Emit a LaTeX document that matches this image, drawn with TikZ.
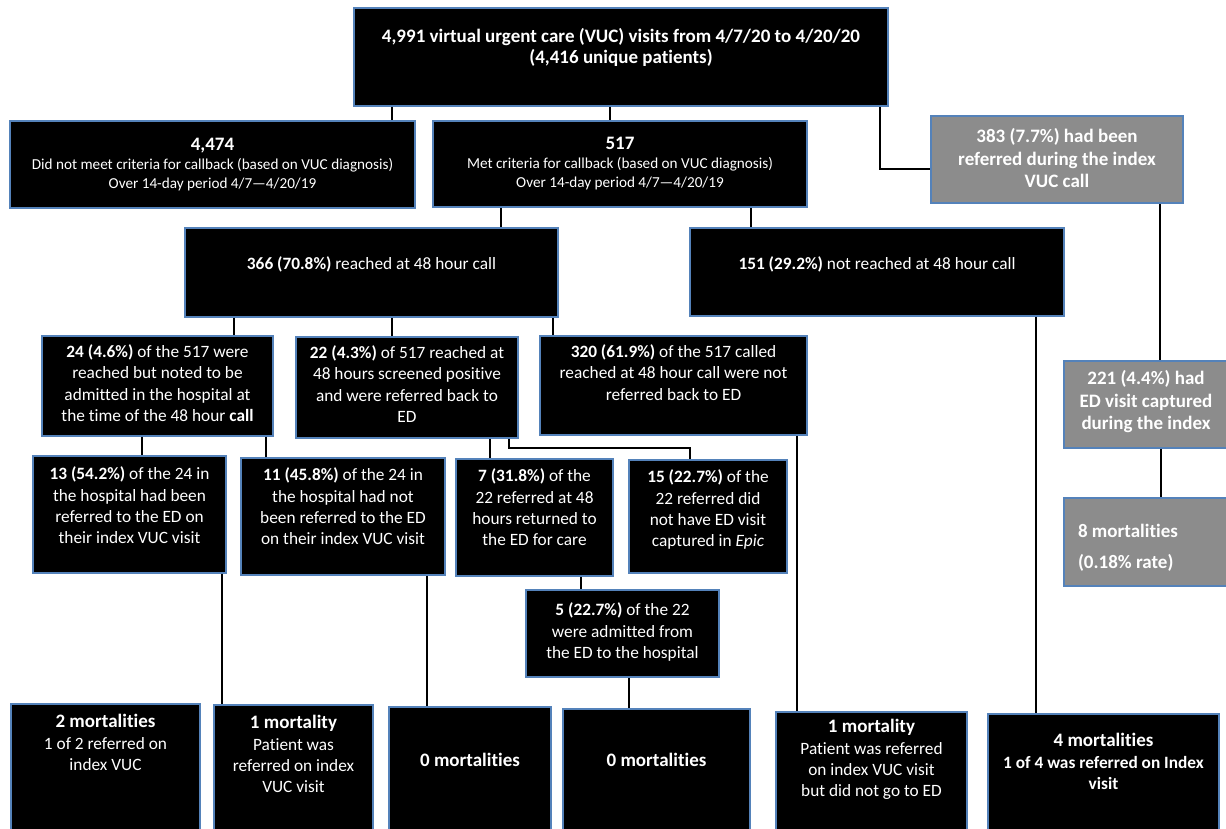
\documentclass[tikz,border=0pt]{standalone}
\usepackage{fontspec}
\setmainfont{Carlito}[Ligatures={TeX,NoCommon}]
\definecolor{edgeblue}{RGB}{84,130,186}
\definecolor{refgrey}{RGB}{140,140,140}
\newcommand{\cbox}[3]{\parbox[c][#2][c]{#1}{\centering #3\par}}
\newcommand{\tbox}[4]{\parbox[c][#2][t]{#1}{\vspace*{#3}\centering\strut #4\par}}
\newcommand{\mortfont}{\fontsize{19}{21.3}\selectfont\bfseries}

\begin{document}
\begin{tikzpicture}
  [x=1pt,y=-1pt,line width=1.5pt,
   every node/.style={rectangle,draw=edgeblue,line width=1.8pt,fill=black,text=white,
     inner sep=0pt,font=\fontsize{17.3}{21.3}\selectfont},
   title/.style={font=\fontsize{19}{21}\selectfont\bfseries},
   small/.style={font=\fontsize{15.2}{19}\selectfont},
   grey/.style={fill=refgrey,font=\fontsize{19}{22.5}\selectfont\bfseries},
   head/.style={font=\mortfont}]
  \useasboundingbox (0,0) rectangle (1226,828);

  \node[title] (top) at (621,57) {\tbox{534pt}{98pt}{20pt}{4,991 virtual urgent care (VUC) visits from 4/7/20 to 4/20/20\\ (4,416 unique patients)}};
  \node[small] (n4474) at (212.5,164.5) {\cbox{405pt}{87pt}{{\fontsize{19}{21}\selectfont\bfseries 4,474}\\ Did not meet criteria for callback (based on VUC diagnosis)\\ Over 14-day period 4/7---4/20/19}};
  \node[small] (n517) at (620,164) {\cbox{374pt}{86pt}{{\fontsize{19}{21}\selectfont\bfseries 517}\\ Met criteria for callback (based on VUC diagnosis)\\ Over 14-day period 4/7---4/20/19}};
  \node[grey] (n383) at (1057,159.5) {\tbox{252pt}{87pt}{11pt}{383 (7.7\%) had been\\ referred during the index\\ VUC call}};
  % 48 hour call
  \node (n366) at (371.5,272.5) {\tbox{373pt}{89pt}{27pt}{\textbf{366 (70.8\%)} reached at 48 hour call}};
  \node (n151) at (877,272) {\tbox{374pt}{88pt}{27pt}{\textbf{151 (29.2\%)} not reached at 48 hour call}};
  \node (n24) at (157.5,386) {\tbox{231pt}{100pt}{6.5pt}{\textbf{24 (4.6\%)} of the 517 were\\ reached but noted to be\\ admitted in the hospital at\\ the time of the 48 hour \textbf{call}}};
  \node (n22) at (407,387.5) {\tbox{222pt}{101pt}{6.5pt}{\textbf{22 (4.3\%)} of 517 reached at\\ 48 hours screened positive\\ and were referred back to\\ ED}};
  \node (n320) at (673.5,385.5) {\tbox{267pt}{99pt}{6.5pt}{\textbf{320 (61.9\%)} of the 517 called\\ reached at 48 hour call were not\\ referred back to ED}};
  \node[grey] (n221) at (1146,404.5) {\tbox{164pt}{87pt}{8pt}{221 (4.4\%) had\\ ED visit captured\\ during the index}};
  % hospital and ED split
  \node (n13) at (129.5,514.5) {\tbox{193pt}{117pt}{9pt}{\textbf{13 (54.2\%)} of the 24 in\\ the hospital had been\\ referred to the ED on\\ their index VUC visit}};
  \node (n11) at (343,516.5) {\tbox{204pt}{117pt}{8pt}{\textbf{11 (45.8\%)} of the 24 in\\ the hospital had not\\ been referred to the ED\\ on their index VUC visit}};
  \node (n7) at (534.5,517.5) {\tbox{157pt}{117pt}{8pt}{\textbf{7 (31.8\%)} of the\\ 22 referred at 48\\ hours returned to\\ the ED for care}};
  \node (n15) at (708,516.5) {\tbox{158pt}{113pt}{8pt}{\textbf{15 (22.7\%)} of the\\ 22 referred did\\ not have ED visit\\ captured in \textit{Epic}}};
  \node[grey] (n8) at (1146,542) {\parbox[c][88pt][t]{164pt}{\vspace*{24pt}\raggedright\leftskip=14pt\strut 8 mortalities\\[8pt] (0.18\% rate)\par}};
  \node (n5) at (622.5,633.5) {\tbox{193pt}{87pt}{11pt}{\textbf{5 (22.7\%)} of the 22\\ were admitted from\\ the ED to the hospital}};
  % mortalities
  \node (m2) at (105.5,768) {\tbox{189pt}{128pt}{9pt}{{\mortfont 2 mortalities}\\ 1 of 2 referred on\\ index VUC}};
  \node (m1a) at (293.5,768.5) {\tbox{159pt}{127pt}{9pt}{{\mortfont 1 mortality}\\ Patient was\\ referred on index\\ VUC visit}};
  \node[head] (m0a) at (470,769.5) {\tbox{162pt}{125pt}{45pt}{0 mortalities}};
  \node[head] (m0b) at (656.5,770.5) {\tbox{187pt}{123pt}{43pt}{0 mortalities}};
  \node (m1b) at (871.5,772) {\tbox{191pt}{120pt}{6pt}{{\mortfont 1 mortality}\\ Patient was referred\\ on index VUC visit\\ but did not go to ED}};
  \node (m4) at (1103.5,773) {\tbox{231pt}{118pt}{18pt}{\bfseries{\mortfont 4 mortalities}\\ 1 of 4 was referred on Index\\ visit}};

  \foreach \from/\to/\x in {top/n4474/392, top/n517/610, n517/n366/501, n517/n151/751,
      n366/n24/234, n366/n22/392, n366/n320/553, n24/n13/142, n24/n11/266,
      n22/n7/490, n7/n5/581, n13/m1a/222, n11/m0a/427, n5/m0b/629,
      n320/m1b/797, n151/m4/1036, n383/n221/1160, n221/n8/1161}
    \draw (\x,0 |- \from.south) -- (\x,0 |- \to.north);
  \draw (880,0 |- top.south) |- ([yshift=-9.5pt]n383.west);
  \draw (509,0 |- n22.south) |- (690,448) -- (690,0 |- n15.north);

\end{tikzpicture}
\end{document}
